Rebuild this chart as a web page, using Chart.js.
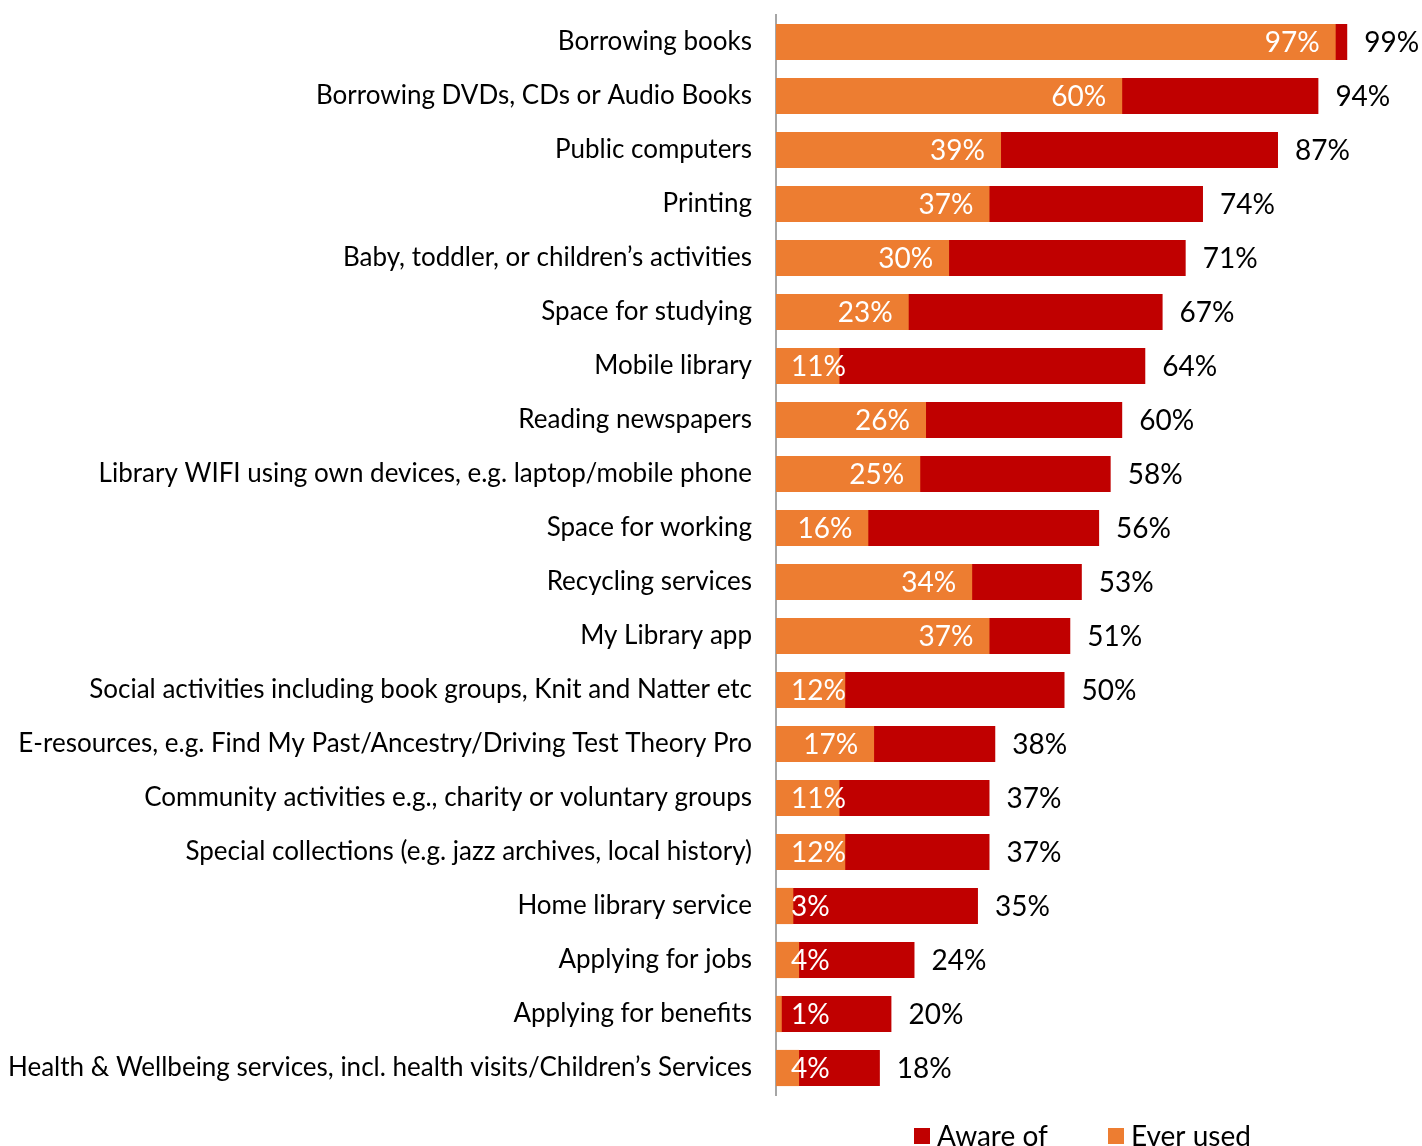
<!DOCTYPE html>
<html>
<head>
<meta charset="utf-8">
<title>Library services: awareness and use</title>
<script src="https://cdn.jsdelivr.net/npm/chart.js@4.4.1/dist/chart.umd.min.js"></script>
<style>
  html, body { margin: 0; padding: 0; background: #fff; }
  canvas { display: block; }
</style>
</head>
<body>
<canvas id="services" width="1422" height="1146"></canvas>
<script>
const categories = [
    'Borrowing books',
    'Borrowing DVDs, CDs or Audio Books',
    'Public computers',
    'Printing',
    'Baby, toddler, or children\u2019s activities',
    'Space for studying',
    'Mobile library',
    'Reading newspapers',
    'Library WIFI using own devices, e.g. laptop/mobile phone',
    'Space for working',
    'Recycling services',
    'My Library app',
    'Social activities including book groups, Knit and Natter etc',
    'E-resources, e.g. Find My Past/Ancestry/Driving Test Theory Pro',
    'Community activities e.g., charity or voluntary groups',
    'Special collections (e.g. jazz archives, local history)',
    'Home library service',
    'Applying for jobs',
    'Applying for benefits',
    'Health & Wellbeing services, incl. health visits/Children\u2019s Services'
];
const awareOf  = [99, 94, 87, 74, 71, 67, 64, 60, 58, 56, 53, 51, 50, 38, 37, 37, 35, 24, 20, 18];
const everUsed = [97, 60, 39, 37, 30, 23, 11, 26, 25, 16, 34, 37, 12, 17, 11, 12, 3, 4, 1, 4];

const RED = '#C00000';
const ORANGE = '#ED7D31';
const FONT = "Lato, 'Open Sans', sans-serif";

// percentages next to / inside the bars
const valueLabels = {
    id: 'valueLabels',
    afterDatasetsDraw(chart) {
        const ctx = chart.ctx;
        const left = chart.chartArea.left;
        ctx.save();
        ctx.font = '28px ' + FONT;
        ctx.textBaseline = 'middle';
        ctx.textAlign = 'left';
        chart.getDatasetMeta(0).data.forEach((bar, i) => {
            ctx.fillStyle = '#000';
            ctx.fillText(awareOf[i] + '%', bar.x + 17, bar.y + 1);
        });
        chart.getDatasetMeta(1).data.forEach((bar, i) => {
            const txt = everUsed[i] + '%';
            const w = ctx.measureText(txt).width;
            ctx.fillStyle = '#fff';
            ctx.fillText(txt, Math.max(bar.x - 16 - w, left + 15), bar.y + 1);
        });
        ctx.restore();
    }
};

const bottomLegend = {
    id: 'bottomLegend',
    afterDraw(chart) {
        const ctx = chart.ctx;
        const items = [
            { text: 'Aware of', color: RED, x: 914 },
            { text: 'Ever used', color: ORANGE, x: 1108 }
        ];
        ctx.save();
        ctx.font = '28px ' + FONT;
        ctx.textBaseline = 'middle';
        ctx.textAlign = 'left';
        items.forEach(item => {
            ctx.fillStyle = item.color;
            ctx.fillRect(item.x, 1128, 16, 16);
            ctx.fillStyle = '#000';
            ctx.fillText(item.text, item.x + 23, 1137);
        });
        ctx.restore();
    }
};

new Chart(document.getElementById('services'), {
    type: 'bar',
    data: {
        labels: categories,
        datasets: [{
            label: 'Aware of',
            data: awareOf,
            backgroundColor: RED,
            order: 2
        }, {
            label: 'Ever used',
            data: everUsed,
            backgroundColor: ORANGE,
            order: 1
        }]
    },
    options: {
        indexAxis: 'y',
        responsive: false,
        animation: false,
        devicePixelRatio: 1,
        layout: {
            padding: { top: 15, bottom: 51, left: 0, right: 69 }
        },
        datasets: {
            bar: {
                grouped: false,
                categoryPercentage: 1,
                barPercentage: 0.67
            }
        },
        scales: {
            x: {
                display: false,
                min: 0,
                max: 100
            },
            y: {
                grid: { display: false },
                border: { display: true, color: '#A6A6A6', width: 2 },
                ticks: {
                    color: '#000',
                    padding: 16,
                    font: { family: FONT, size: 26 }
                },
                afterFit(scale) {
                    scale.width = 776;
                    scale.paddingTop = 0;
                    scale.paddingBottom = 0;
                }
            }
        },
        plugins: {
            legend: { display: false },
            tooltip: { enabled: false }
        }
    },
    plugins: [valueLabels, bottomLegend]
});
</script>
</body>
</html>
